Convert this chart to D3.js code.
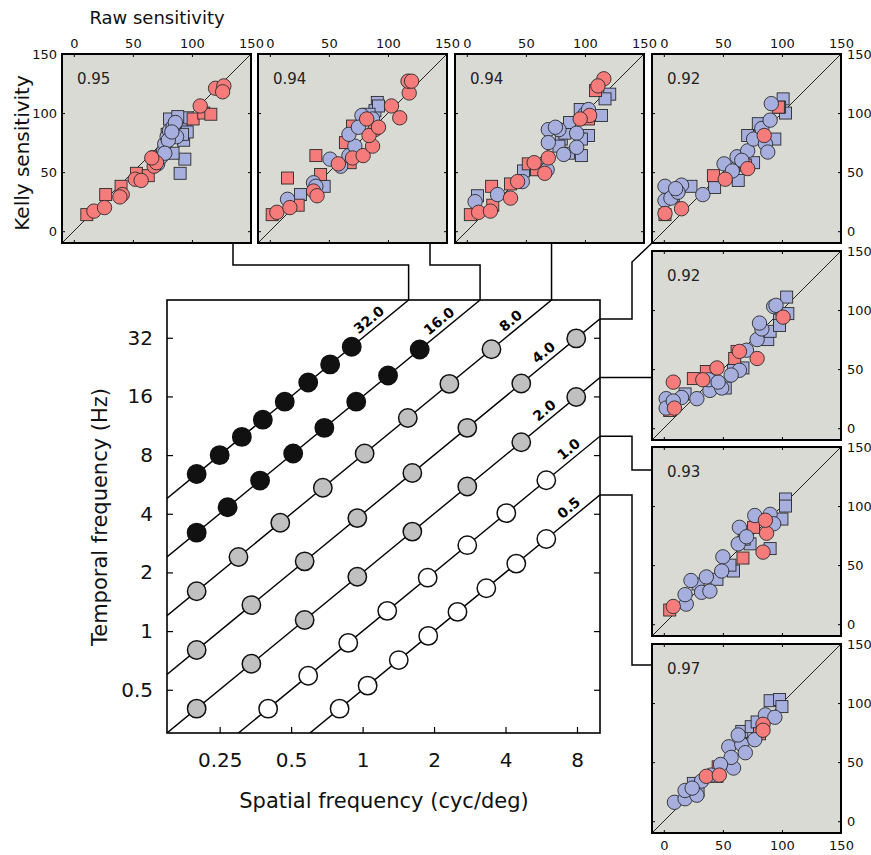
<!DOCTYPE html>
<html>
<head>
<meta charset="utf-8">
<script src="https://cdn.jsdelivr.net/npm/d3@7"></script>
<style>
  body { margin: 0; background: #fff; }
  svg { font-family: "DejaVu Sans", "Liberation Sans", Arial, sans-serif; }
</style>
</head>
<body>
<svg width="871" height="855"></svg>
<script>
// ---- main chart data: speed lines (deg/s) and the spatial frequencies sampled on each ----
var speeds = [32, 16, 8, 4, 2, 1, 0.5];
var speedLabels = ["32.0", "16.0", "8.0", "4.0", "2.0", "1.0", "0.5"];
var sf32 = [0.2, 0.25, 0.31, 0.38, 0.47, 0.59, 0.73, 0.9];
var sf16 = [0.2, 0.27, 0.37, 0.51, 0.69, 0.94, 1.28, 1.74];
var sf8 = [0.2, 0.3, 0.45, 0.68, 1.02, 1.55, 2.32, 3.49];
var sf4 = [0.2, 0.34, 0.57, 0.95, 1.62, 2.76, 4.66, 7.94];
var sf2 = [0.2, 0.34, 0.57, 0.95, 1.62, 2.76, 4.66, 7.94];
var sf1 = [0.4, 0.59, 0.87, 1.27, 1.88, 2.76, 4.03, 5.94];
var sf05 = [0.8, 1.05, 1.42, 1.89, 2.51, 3.32, 4.44, 5.94];
var sfTicks = [0.25, 0.5, 1, 2, 4, 8];
var tfTicks = [0.5, 1, 2, 4, 8, 16, 32];

// ---- scatter panels: [raw, kelly] ----
var corr = ["0.95", "0.94", "0.94", "0.92", "0.92", "0.93", "0.97"];

var p1RedCircle = [[17,17],[26,20],[41,31],[39,29],[52,44],[57,43],[68,55],[70,58],[66,62],[107,106],[120,121],[127,123],[126,118]];
var p1RedSquare = [[11,14],[27,31],[40,38],[53,49],[63,47],[70,63],[101,95],[110,100],[116,99]];
var p1BlueCircle = [[71,57],[74,63],[76,68],[77,74],[79,80],[81,85],[84,88],[86,92],[87,80],[80,77],[77,66],[83,84]];
var p1BlueSquare = [[90,49],[94,61],[93,77],[94,88],[91,93],[96,96],[81,95],[84,66],[96,84],[92,82],[79,82],[88,97]];

var p2RedCircle = [[6,16],[17,20],[37,34],[58,57],[70,62],[79,64],[87,72],[89,86],[84,81],[82,95],[92,88],[103,106],[110,96],[118,117],[117,127],[120,127],[40,30]];
var p2RedSquare = [[2,14],[15,45],[39,64],[43,48],[70,89],[64,75],[68,58],[24,22]];
var p2BlueCircle = [[15,27],[37,41],[51,61],[60,55],[67,64],[72,72],[78,98],[67,82],[75,88],[87,95],[39,38]];
var p2BlueSquare = [[26,31],[46,38],[91,109],[89,102],[92,106],[84,99]];

var p3RedCircle = [[10,16],[20,17],[37,28],[43,42],[57,58],[66,49],[69,62],[116,129],[111,123],[104,98],[96,95]];
var p3RedSquare = [[3,14],[21,38],[37,40],[52,57],[59,52],[109,119],[103,95],[22,22]];
var p3BlueCircle = [[7,25],[26,31],[47,42],[68,52],[69,86],[69,75],[78,86],[82,65],[93,83],[93,71],[100,99],[103,103],[75,88]];
var p3BlueSquare = [[9,30],[48,51],[80,78],[83,83],[86,66],[97,64],[103,81],[114,98],[121,116],[117,112],[96,103],[78,72],[87,92],[97,78]];

var p4RedCircle = [[1,15],[15,19],[52,44],[71,53],[85,81]];
var p4RedSquare = [[1,14],[42,47],[69,56],[81,80],[97,105]];
var p4BlueCircle = [[1,38],[1,26],[6,28],[15,39],[12,33],[33,31],[51,57],[58,51],[62,63],[71,68],[76,78],[83,87],[86,74],[90,94],[91,108],[88,67],[66,60],[10,36]];
var p4BlueSquare = [[23,38],[43,37],[63,43],[76,58],[80,91],[94,78],[101,112],[103,100],[98,105],[71,81],[8,30]];

var p5RedCircle = [[8,39],[9,17],[33,41],[45,51],[64,65],[79,59],[101,94]];
var p5RedSquare = [[25,42],[36,48],[62,65],[60,59],[5,15]];
var p5BlueCircle = [[2,25],[2,17],[15,26],[28,25],[39,32],[49,34],[38,41],[64,49],[70,66],[79,75],[83,84],[81,89],[93,103],[95,104],[57,45],[46,39],[8,23]];
var p5BlueSquare = [[5,21],[18,29],[52,34],[67,51],[59,49],[88,75],[90,82],[98,91],[104,111],[105,97],[98,87]];

var p6RedCircle = [[8,15],[84,61],[87,77],[86,88]];
var p6RedSquare = [[67,56],[76,82],[5,12]];
var p6BlueCircle = [[19,17],[18,25],[23,37],[32,27],[36,40],[50,57],[63,68],[64,82],[77,92],[90,93],[93,85],[39,28],[49,45],[70,74]];
var p6BlueSquare = [[29,34],[45,38],[59,45],[73,68],[90,64],[100,89],[103,106],[103,100],[68,72],[56,50]];

var p7RedCircle = [[36,38],[47,39],[84,82],[84,77]];
var p7RedSquare = [[46,46],[81,74]];
var p7BlueCircle = [[9,16],[18,19],[28,22],[18,26],[32,34],[40,39],[59,45],[55,63],[66,65],[69,58],[57,54],[77,69],[86,90],[94,88],[63,73],[24,28],[48,48]];
var p7BlueSquare = [[25,32],[45,38],[66,76],[74,80],[90,102],[98,103],[100,97],[79,84],[29,26]];

var sensTicks = [0, 50, 100, 150];

// ---- layout / style ----
var svg = d3.select("svg");
var plot = { left: 167, right: 600, top: 300, bottom: 733 };
var lineFills = ["#111", "#111", "#c0c0c0", "#c0c0c0", "#c0c0c0", "#fff", "#fff"];
var labelSF = [1.13, 2.23, 4.47, 6.15, 6.2, 7.84, 7.84];
var red = "#f67c7c", blue = "#a6afdd", panelBg = "#dadad4";

var x = d3.scaleLog().domain([0.15, 10]).range([plot.left, plot.right]);
var y = d3.scaleLog().domain([0.3, 50]).range([plot.bottom, plot.top]);

svg.append("clipPath").attr("id", "plotclip")
  .append("rect")
  .attr("x", plot.left).attr("y", plot.top)
  .attr("width", plot.right - plot.left).attr("height", plot.bottom - plot.top);

var main = svg.append("g");
var lineGen = d3.line()
  .x(function (d) { return x(d[0]); })
  .y(function (d) { return y(d[1]); });

var sfByLine = [sf32, sf16, sf8, sf4, sf2, sf1, sf05];

speeds.forEach(function (v, i) {
  main.append("path")
    .attr("clip-path", "url(#plotclip)")
    .attr("d", lineGen(x.domain().map(function (s) { return [s, v * s]; })))
    .attr("fill", "none")
    .attr("stroke", "#000")
    .attr("stroke-width", 1.4);
});

var angle = Math.atan2(y(2) - y(1), x(2) - x(1)) * 180 / Math.PI;

speeds.forEach(function (v, i) {
  main.selectAll(".pt" + i)
    .data(sfByLine[i])
    .enter()
    .append("circle")
    .attr("cx", function (d) { return x(d); })
    .attr("cy", function (d) { return y(v * d); })
    .attr("r", 9.2)
    .attr("fill", lineFills[i])
    .attr("stroke", "#111")
    .attr("stroke-width", 1.5);

  main.append("text")
    .attr("transform", "translate(" + x(labelSF[i]) + "," + y(v * labelSF[i]) + ") rotate(" + angle + ")")
    .attr("dy", -5)
    .attr("text-anchor", "middle")
    .attr("font-size", 14)
    .attr("font-weight", "bold")
    .text(speedLabels[i]);
});

// axes of main chart (inward ticks)
var xAxis = main.append("g")
  .attr("transform", "translate(0," + plot.bottom + ")")
  .call(d3.axisBottom(x).tickValues(sfTicks).tickFormat(function (d) { return d; })
    .tickSizeInner(-6).tickSizeOuter(0).tickPadding(20));
var yAxis = main.append("g")
  .attr("transform", "translate(" + plot.left + ",0)")
  .call(d3.axisLeft(y).tickValues(tfTicks).tickFormat(function (d) { return d; })
    .tickSizeInner(-6).tickSizeOuter(0).tickPadding(14));
var yAxisR = main.append("g")
  .attr("transform", "translate(" + plot.right + ",0)")
  .call(d3.axisRight(y).tickValues(tfTicks).tickFormat("").tickSizeInner(-6).tickSizeOuter(0));

[xAxis, yAxis, yAxisR].forEach(function (a) {
  a.select(".domain").remove();
  a.attr("font-family", null).attr("font-size", 20);
  a.selectAll("line").attr("stroke", "#000").attr("stroke-width", 1.2);
  a.selectAll("text").attr("fill", "#111");
});

main.append("rect")
  .attr("x", plot.left).attr("y", plot.top)
  .attr("width", plot.right - plot.left).attr("height", plot.bottom - plot.top)
  .attr("fill", "none").attr("stroke", "#000").attr("stroke-width", 1.6);

main.append("text")
  .attr("x", 384).attr("y", 808)
  .attr("text-anchor", "middle").attr("font-size", 21).attr("fill", "#111")
  .text("Spatial frequency (cyc/deg)");
main.append("text")
  .attr("transform", "translate(107,517) rotate(-90)")
  .attr("text-anchor", "middle").attr("font-size", 21).attr("fill", "#111")
  .text("Temporal frequency (Hz)");

// ---- scatter panels ----
var pw = 189, ph = 189;
var panelPos = [[62, 54], [258, 54], [455, 54], [652, 54], [652, 251], [652, 447], [652, 644]];
var panels = [
  { rc: p1RedCircle, rs: p1RedSquare, bc: p1BlueCircle, bs: p1BlueSquare },
  { rc: p2RedCircle, rs: p2RedSquare, bc: p2BlueCircle, bs: p2BlueSquare },
  { rc: p3RedCircle, rs: p3RedSquare, bc: p3BlueCircle, bs: p3BlueSquare },
  { rc: p4RedCircle, rs: p4RedSquare, bc: p4BlueCircle, bs: p4BlueSquare },
  { rc: p5RedCircle, rs: p5RedSquare, bc: p5BlueCircle, bs: p5BlueSquare },
  { rc: p6RedCircle, rs: p6RedSquare, bc: p6BlueCircle, bs: p6BlueSquare },
  { rc: p7RedCircle, rs: p7RedSquare, bc: p7BlueCircle, bs: p7BlueSquare }
];

var px = d3.scaleLinear().domain([-10, 150]).range([0, pw]);
var py = d3.scaleLinear().domain([-10, 150]).range([ph, 0]);
var sq = 12;

panels.forEach(function (p, i) {
  var g = svg.append("g").attr("transform", "translate(" + panelPos[i][0] + "," + panelPos[i][1] + ")");
  g.append("clipPath").attr("id", "pc" + i)
    .append("rect").attr("width", pw).attr("height", ph);
  g.append("rect").attr("width", pw).attr("height", ph).attr("fill", panelBg);

  var inner = g.append("g").attr("clip-path", "url(#pc" + i + ")");
  inner.append("line")
    .attr("x1", px(-10)).attr("y1", py(-10))
    .attr("x2", px(150)).attr("y2", py(150))
    .attr("stroke", "#222").attr("stroke-width", 1);

  function squares(data, fill) {
    inner.selectAll(null).data(data).enter().append("rect")
      .attr("x", function (d) { return px(d[0]) - sq / 2; })
      .attr("y", function (d) { return py(d[1]) - sq / 2; })
      .attr("width", sq).attr("height", sq)
      .attr("fill", fill).attr("stroke", "#2a2a2a").attr("stroke-width", 0.9);
  }
  function circles(data, fill) {
    inner.selectAll(null).data(data).enter().append("circle")
      .attr("cx", function (d) { return px(d[0]); })
      .attr("cy", function (d) { return py(d[1]); })
      .attr("r", 7.2)
      .attr("fill", fill).attr("stroke", "#2a2a2a").attr("stroke-width", 0.9);
  }
  squares(p.bs, blue);
  squares(p.rs, red);
  circles(p.bc, blue);
  circles(p.rc, red);

  var showTop = i <= 3, showLeft = i === 0, showRight = i >= 3, showBottom = i === 6;
  var axes = [
    g.append("g").call(d3.axisTop(px).tickValues(sensTicks).tickFormat(showTop ? null : "")
      .tickSizeInner(-3).tickSizeOuter(0).tickPadding(6)),
    g.append("g").attr("transform", "translate(0," + ph + ")")
      .call(d3.axisBottom(px).tickValues(sensTicks).tickFormat(showBottom ? null : "")
      .tickSizeInner(-3).tickSizeOuter(0).tickPadding(8)),
    g.append("g").call(d3.axisLeft(py).tickValues(sensTicks).tickFormat(showLeft ? null : "")
      .tickSizeInner(-3).tickSizeOuter(0).tickPadding(5)),
    g.append("g").attr("transform", "translate(" + pw + ",0)")
      .call(d3.axisRight(py).tickValues(sensTicks).tickFormat(showRight ? null : "")
      .tickSizeInner(-3).tickSizeOuter(0).tickPadding(6))
  ];
  axes.forEach(function (a) {
    a.select(".domain").remove();
    a.attr("font-family", null).attr("font-size", 13);
    a.selectAll("line").attr("stroke", "#000");
    a.selectAll("text").attr("fill", "#111");
  });

  g.append("text").attr("x", 15).attr("y", 30)
    .attr("font-size", 15).attr("fill", "#222")
    .text(corr[i]);

  g.append("rect").attr("width", pw).attr("height", ph)
    .attr("fill", "none").attr("stroke", "#000").attr("stroke-width", 2);
});

svg.append("text")
  .attr("x", 157).attr("y", 24)
  .attr("text-anchor", "middle").attr("font-size", 18).attr("fill", "#111")
  .text("Raw sensitivity");
svg.append("text")
  .attr("transform", "translate(29,153) rotate(-90)")
  .attr("text-anchor", "middle").attr("font-size", 20).attr("fill", "#111")
  .text("Kelly sensitivity");

// ---- connectors from speed lines to panels ----
var topTF = y.domain()[1], rightSF = x.domain()[1];
var conn = svg.append("g").attr("fill", "none").attr("stroke", "#000").attr("stroke-width", 1.5);
var bottomTop = panelPos[0][1] + ph;
conn.append("path").attr("d", "M" + (panelPos[0][0] + 171) + "," + bottomTop + "V265H" + x(topTF / speeds[0]) + "V" + plot.top);
conn.append("path").attr("d", "M" + (panelPos[1][0] + 172) + "," + bottomTop + "V265H" + x(topTF / speeds[1]) + "V" + plot.top);
conn.append("path").attr("d", "M" + x(topTF / speeds[2]) + "," + bottomTop + "V" + plot.top);
conn.append("path").attr("d", "M" + plot.right + "," + y(speeds[3] * rightSF) + "H632V262L" + panelPos[3][0] + "," + bottomTop);
conn.append("path").attr("d", "M" + plot.right + "," + y(speeds[4] * rightSF) + "H" + panelPos[4][0]);
conn.append("path").attr("d", "M" + plot.right + "," + y(speeds[5] * rightSF) + "H632V470H" + panelPos[5][0]);
conn.append("path").attr("d", "M" + plot.right + "," + y(speeds[6] * rightSF) + "H632V665H" + panelPos[6][0]);
</script>
</body>
</html>
